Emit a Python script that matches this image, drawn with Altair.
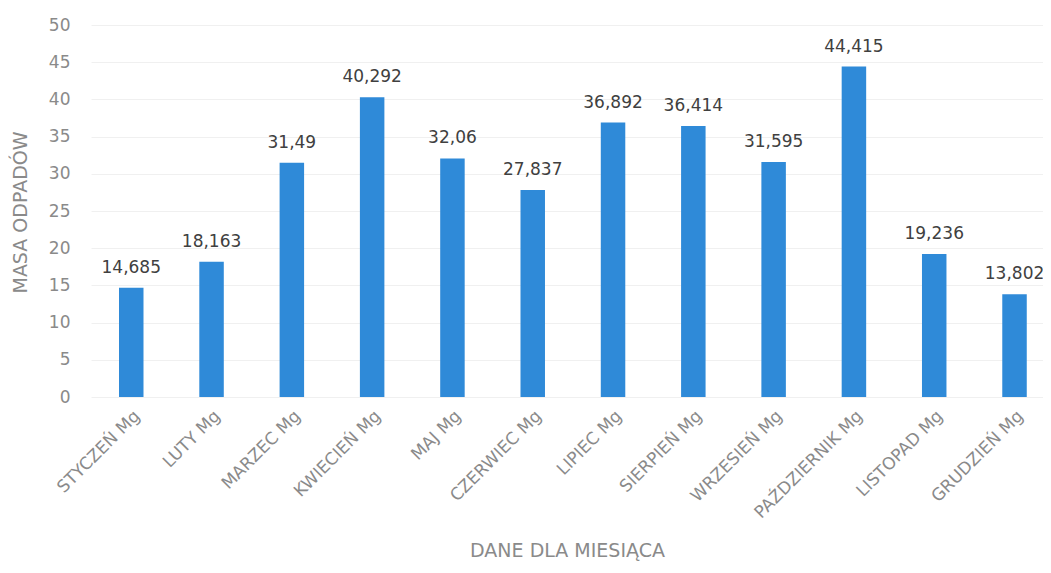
import altair as alt
import pandas as pd

months = ["STYCZEŃ  Mg", "LUTY  Mg", "MARZEC  Mg", "KWIECIEŃ  Mg", "MAJ  Mg", "CZERWIEC Mg",
          "LIPIEC  Mg", "SIERPIEŃ  Mg", "WRZESIEŃ  Mg", "PAŹDZIERNIK  Mg", "LISTOPAD  Mg", "GRUDZIEŃ Mg"]
values = [14.685, 18.163, 31.49, 40.292, 32.06, 27.837, 36.892, 36.414, 31.595, 44.415, 19.236, 13.802]
labels = ["14,685", "18,163", "31,49", "40,292", "32,06", "27,837",
          "36,892", "36,414", "31,595", "44,415", "19,236", "13,802"]
y_ticks = [0, 5, 10, 15, 20, 25, 30, 35, 40, 45, 50]

df = pd.DataFrame({"month": months, "value": values, "label": labels})

FONT = "DejaVu Sans"
GRAY = "#8a8a8a"

x = alt.X("month:N", sort=months,
          scale=alt.Scale(paddingInner=0.695, paddingOuter=0.2755, align=0.633),
          axis=alt.Axis(title="DANE DLA MIESIĄCA", labelAngle=-45, labelAlign="right",
                        labelBaseline="middle", labelFont=FONT, labelFontSize=17,
                        labelColor=GRAY, ticks=False, domain=False, labelPadding=16,
                        labelOffset=6, labelOverlap=False,
                        titleFont=FONT, titleFontSize=19, titleFontWeight="normal",
                        titleColor=GRAY, titleBaseline="middle", titleY=153))
y = alt.Y("value:Q", scale=alt.Scale(domain=[0, 50]),
          axis=alt.Axis(title="MASA ODPADÓW", values=y_ticks, tickCount=11, labelFont=FONT,
                        labelFontSize=17, labelColor=GRAY, ticks=False, domain=False,
                        labelPadding=21, labelOverlap=False, gridColor="#f0f0f0", gridWidth=1,
                        titleFont=FONT, titleFontSize=19, titleFontWeight="normal",
                        titleColor=GRAY, titleBaseline="middle", titleX=-71, titleY=187))

bars = alt.Chart(df).mark_bar(color="#2F8AD8").encode(x=x, y=y)
text = alt.Chart(df).mark_text(dy=-20, font=FONT, fontSize=17, color="#404040").encode(
    x=x, y=y, text="label:N")

chart = (bars + text).properties(
    width=952, height=372,
    autosize=alt.AutoSizeParams(type="none"),
    padding={"left": 83, "top": 17, "right": 0, "bottom": 168},
).configure_view(stroke=None)

chart.save("out.html", embed_options={"renderer": "svg", "actions": False})
